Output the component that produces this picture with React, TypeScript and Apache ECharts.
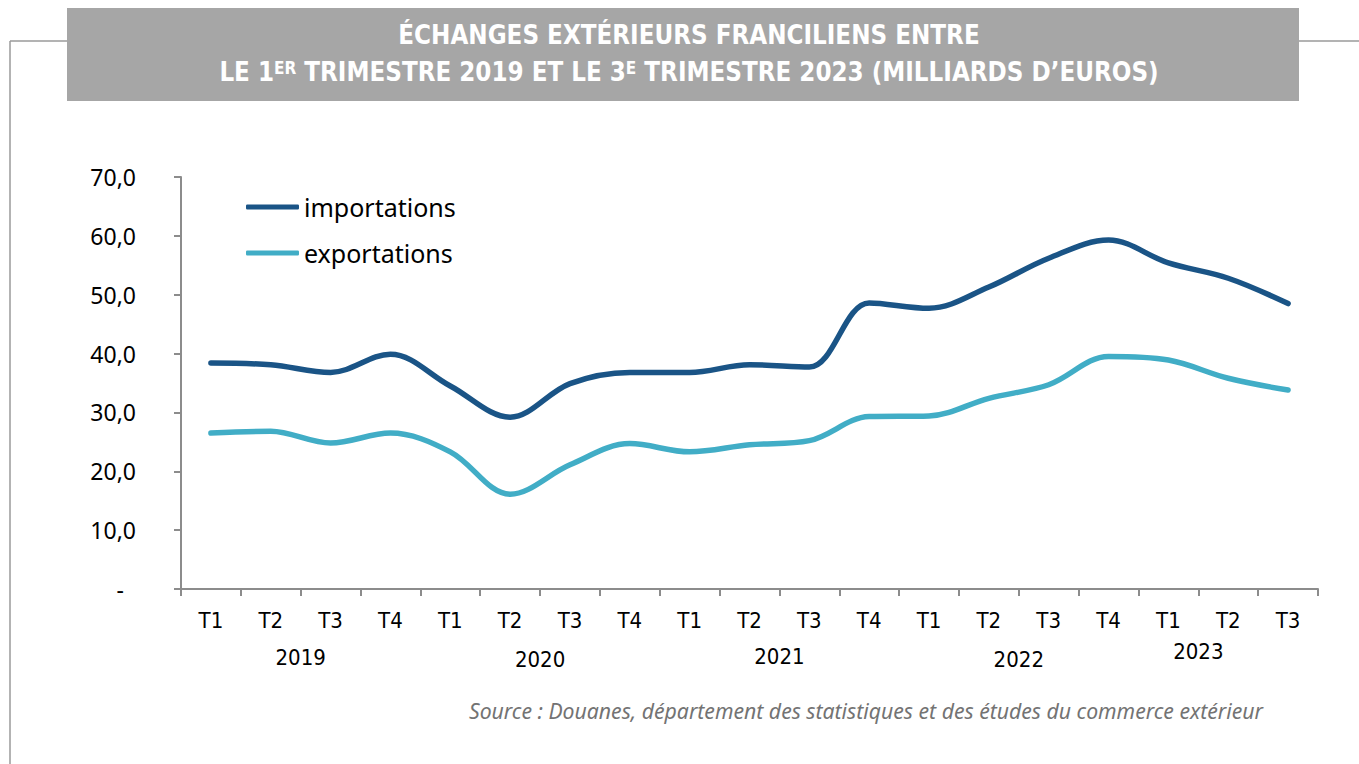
import React, { useEffect, useRef } from "react";
import * as echarts from "echarts";

const quarters = ["T1","T2","T3","T4","T1","T2","T3","T4","T1","T2","T3","T4","T1","T2","T3","T4","T1","T2","T3"];
const importations = [38.4,38.1,36.8,39.9,34.5,29.2,34.9,36.8,36.8,38.1,37.7,48.6,47.7,51.3,56.2,59.3,55.4,52.8,48.5];
const exportations = [26.5,26.8,24.8,26.5,23.3,16.1,21.1,24.7,23.3,24.5,25.2,29.3,29.4,32.4,34.7,39.5,38.9,35.8,33.8];
const years = ["2019","2020","2021","2022","2023"];
// index pairs whose midpoint hosts each year label
const yearAnchors = [[1,2],[5,6],[9,10],[13,14],[16,17]];
const yTicks = { min: 0, max: 70, interval: 10 };

const COND = "'Liberation Sans Narrow', 'DejaVu Sans Condensed', 'Roboto', sans-serif";
const SANS = "'Noto Sans', 'Open Sans', sans-serif";

export default function App() {
  const ref = useRef<HTMLDivElement>(null);
  useEffect(() => {
    if (!ref.current) return;
    const chart = echarts.init(ref.current, null, { renderer: "svg" });
    const option: any = {
      animation: false,
      backgroundColor: "#ffffff",
      grid: { left: 181, right: 41, top: 177, bottom: 175, containLabel: false },
      legend: {
        orient: "vertical",
        left: 246,
        top: 194,
        padding: 0,
        itemWidth: 53,
        itemHeight: 5,
        itemGap: 20,
        icon: "roundRect",
        textStyle: { fontFamily: SANS, fontSize: 25, color: "#000", lineHeight: 26, padding: [0, 0, 0, 0] },
        data: [{ name: "importations" }, { name: "exportations" }],
      },
      xAxis: {
        type: "category",
        data: quarters,
        boundaryGap: true,
        axisLine: { lineStyle: { color: "#8c8c8c", width: 2 } },
        axisTick: { show: true, length: 7, lineStyle: { color: "#8c8c8c", width: 2 } },
        axisLabel: { fontFamily: COND, fontSize: 22, color: "#000", margin: 20, interval: 0 },
        splitLine: { show: false },
      },
      yAxis: {
        type: "value",
        min: yTicks.min,
        max: yTicks.max,
        interval: yTicks.interval,
        axisLine: { show: true, lineStyle: { color: "#8c8c8c", width: 2 } },
        axisTick: { show: true, length: 7, lineStyle: { color: "#8c8c8c", width: 2 } },
        splitLine: { show: false },
        axisLabel: {
          fontFamily: SANS,
          fontSize: 23,
          color: "#000",
          margin: 45,
          formatter: (v: number) => (v === 0 ? "{z|-}" : v.toFixed(1).replace(".", ",")),
          rich: { z: { fontFamily: SANS, fontSize: 23, color: "#000", padding: [0, 12, 0, 0] } },
        },
      },
      series: [
        {
          name: "importations",
          type: "line",
          data: importations,
          smooth: 0.35,
          showSymbol: false,
          symbol: "none",
          itemStyle: { color: "#1a5486" },
          lineStyle: { color: "#1a5486", width: 5.5, cap: "round" },
        },
        {
          name: "exportations",
          type: "line",
          data: exportations,
          smooth: 0.35,
          showSymbol: false,
          symbol: "none",
          itemStyle: { color: "#41adc6" },
          lineStyle: { color: "#41adc6", width: 5.5, cap: "round" },
        },
      ],
    };
    chart.setOption(option);

    const yearY = [657, 659, 656, 659, 651];
    const yearTexts = years.map((y, i) => {
      const [a, b] = yearAnchors[i];
      const xa = chart.convertToPixel({ xAxisIndex: 0 }, a) as number;
      const xb = chart.convertToPixel({ xAxisIndex: 0 }, b) as number;
      return {
        type: "text",
        x: (xa + xb) / 2,
        y: yearY[i],
        style: { text: y, fontFamily: COND, fontSize: 22, fill: "#000", textAlign: "center", textVerticalAlign: "middle" },
      };
    });

    chart.setOption({
      graphic: [
        { type: "line", shape: { x1: 10, y1: 41, x2: 67, y2: 41 }, style: { stroke: "#9a9a9a", lineWidth: 1.5 } },
        { type: "line", shape: { x1: 10, y1: 41, x2: 10, y2: 764 }, style: { stroke: "#9a9a9a", lineWidth: 1.5 } },
        { type: "line", shape: { x1: 1299, y1: 41, x2: 1359, y2: 41 }, style: { stroke: "#9a9a9a", lineWidth: 1.5 } },
        { type: "rect", shape: { x: 67, y: 8, width: 1232, height: 93 }, style: { fill: "#a6a6a6" } },
        {
          type: "text",
          x: 689,
          y: 35,
          style: {
            text: "ÉCHANGES EXTÉRIEURS FRANCILIENS ENTRE",
            fontFamily: COND,
            fontWeight: "bold",
            fontSize: 25.7,
            fill: "#ffffff",
            textAlign: "center",
            textVerticalAlign: "middle",
          },
        },
        {
          type: "text",
          x: 689,
          y: 72,
          style: {
            text: "{a|LE 1}{s|ER}{a| TRIMESTRE 2019 ET LE 3}{s|E}{a| TRIMESTRE 2023 (MILLIARDS D’EUROS)}",
            textAlign: "center",
            textVerticalAlign: "middle",
            rich: {
              a: { fontFamily: COND, fontWeight: "bold", fontSize: 25.7, fill: "#ffffff", color: "#ffffff", height: 30 },
              s: { fontFamily: COND, fontWeight: "bold", fontSize: 17, fill: "#ffffff", color: "#ffffff", verticalAlign: "top", height: 30, padding: [0, 0, 8, 0] },
            },
          },
        },
        ...yearTexts,
        {
          type: "text",
          x: 1263,
          y: 710,
          style: {
            text: "Source : Douanes, département des statistiques et des études du commerce extérieur",
            fontFamily: SANS,
            fontStyle: "italic",
            fontSize: 21.2,
            fill: "#737373",
            textAlign: "right",
            textVerticalAlign: "middle",
          },
        },
      ],
    });
    return () => chart.dispose();
  }, []);
  return <div ref={ref} style={{ position: "absolute", left: 0, top: 0, width: 1359, height: 764 }} />;
}
